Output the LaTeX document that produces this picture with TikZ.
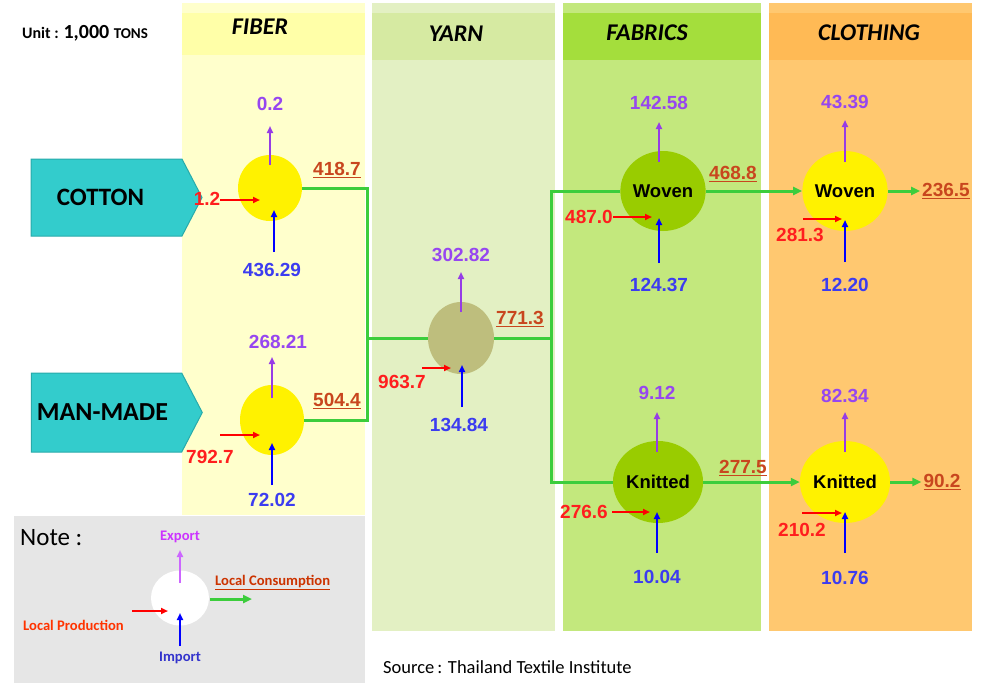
\documentclass[tikz,border=0pt]{standalone}
\usepackage{fontspec}
\setmainfont{Carlito}
\newfontfamily\numfont{Liberation Sans}
\usetikzlibrary{shapes.geometric,shapes.symbols,arrows.meta}

\definecolor{fibbody}{RGB}{255,255,204}
\definecolor{fibband}{RGB}{255,255,168}
\definecolor{yarnbody}{RGB}{227,240,195}
\definecolor{yarnband}{RGB}{214,234,162}
\definecolor{fabbody}{RGB}{195,232,125}
\definecolor{fabband}{RGB}{164,222,60}
\definecolor{clobody}{RGB}{255,200,112}
\definecolor{cloband}{RGB}{255,186,85}
\definecolor{notebg}{RGB}{230,230,230}
\definecolor{tealfill}{RGB}{51,204,204}
\definecolor{tealline}{RGB}{40,170,170}
\definecolor{yarnfill}{RGB}{190,190,125}
\definecolor{fabfill}{RGB}{153,204,0}
\definecolor{expcol}{RGB}{150,70,240}
\definecolor{impcol}{RGB}{60,60,240}
\definecolor{prodcol}{RGB}{255,30,30}
\definecolor{conscol}{RGB}{200,70,30}
\definecolor{expline}{RGB}{150,60,230}
\definecolor{impline}{RGB}{0,0,255}
\definecolor{prodline}{RGB}{255,0,0}
\definecolor{consline}{RGB}{60,205,60}

\begin{document}
\begin{tikzpicture}[x=1pt,y=-1pt,
  num/.style={font=\numfont\bfseries\fontsize{19}{21}\selectfont, inner sep=2pt},
  expnum/.style={num, text=expcol},
  impnum/.style={num, text=impcol},
  prodnum/.style={num, text=prodcol},
  consnum/.style={num, text=conscol},
  stage/.style={ellipse, inner sep=0pt, font=\numfont\bfseries\fontsize{18.5}{20}\selectfont},
  thinarr/.style={line width=2pt, -{Triangle[length=7pt,width=6pt]}},
  exparr/.style={thinarr, draw=expline},
  imparr/.style={thinarr, draw=impline},
  prodarr/.style={thinarr, draw=prodline},
  cons/.style={draw=consline, line width=3pt},
  consarr/.style={cons, -{Triangle[length=9pt,width=8pt]}},
  head/.style={font=\bfseries\itshape\fontsize{24}{26}\selectfont},
  source/.style={signal, signal to=east, signal pointer angle=125, fill=tealfill,
    draw=tealline, line width=1pt, minimum width=171pt, inner sep=0pt,
    font=\bfseries\fontsize{25}{27}\selectfont},
  legend/.style={font=\bfseries\fontsize{14.6}{16}\selectfont, inner sep=1pt}]

  \useasboundingbox (0,0) rectangle (985,691);

  \fill[fibbody] (182,3) rectangle (365,515);
  \fill[fibband] (182,13) rectangle (365,55);
  \fill[yarnbody] (372,3) rectangle (555,631);
  \fill[yarnband] (372,13) rectangle (555,60);
  \fill[fabbody] (563,3) rectangle (761,631);
  \fill[fabband] (563,13) rectangle (761,60);
  \fill[clobody] (769,3) rectangle (972,631);
  \fill[cloband] (769,13) rectangle (972,60);
  \fill[notebg] (14,516) rectangle (365,683);

  \node[anchor=west, font=\bfseries, inner sep=0pt] (unit) at (22,33)
    {\fontsize{16}{18}\selectfont Unit : \fontsize{20}{22}\selectfont 1,000 \fontsize{15}{17}\selectfont TONS};
  \node[head] (hfib) at (260,27) {FIBER};
  \node[head] (hyarn) at (456,34) {YARN};
  \node[head] (hfab) at (647,33) {FABRICS};
  \node[head] (hclo) at (869,33) {CLOTHING};

  \node[source, minimum height=77pt] (cotton) at (106.5,197.5) {COTTON\hspace*{12pt}};
  \node[source, minimum height=79pt, font=\bfseries\fontsize{26}{28}\selectfont] (manmade) at (106.5,412.5) {MAN-MADE\hspace*{8pt}};

  \node[stage, fill=yellow, minimum width=64pt, minimum height=66pt] (fc) at (270,188) {};
  \node[stage, fill=yellow, minimum width=64pt, minimum height=70pt] (fm) at (272,420) {};
  \node[stage, fill=yarnfill, minimum width=66pt, minimum height=72pt] (yn) at (461,338) {};
  \node[stage, fill=fabfill, minimum width=82pt, minimum height=80pt] (fw) at (663,191) {Woven};
  \node[stage, fill=fabfill, minimum width=88pt, minimum height=82pt] (fk) at (658,482) {Knitted};
  \node[stage, fill=yellow, minimum width=84pt, minimum height=80pt] (cw) at (845,191) {Woven};
  \node[stage, fill=yellow, minimum width=84pt, minimum height=82pt] (ck) at (845,482) {Knitted};

  \coordinate (j1) at (367,338);
  \coordinate (j2) at (551,338);
  \draw[cons] (fc.east) -| (j1);
  \draw[cons] (fm.east) -| (j1);
  \draw[cons] (j1) -- (yn.west);
  \draw[cons] (yn.east) -- (j2);
  \draw[cons] (j2) |- (fw.west);
  \draw[cons] (j2) |- (fk.west);
  \draw[consarr] (fw.east) -- (cw.west);
  \draw[consarr] (fk.east) -- (ck.west);

  \node[expnum] (fc-e) at (270,104) {0.2};
  \node[expnum] (fm-e) at (278,342) {268.21};
  \node[expnum] (yn-e) at (461,255) {302.82};
  \node[expnum] (fw-e) at (659,103) {142.58};
  \node[expnum] (fk-e) at (657,393) {9.12};
  \node[expnum] (cw-e) at (845,102) {43.39};
  \node[expnum] (ck-e) at (845,396) {82.34};

  \node[impnum] (fc-i) at (272,270) {436.29};
  \node[impnum] (fm-i) at (272,500) {72.02};
  \node[impnum] (yn-i) at (459,425) {134.84};
  \node[impnum] (fw-i) at (659,285) {124.37};
  \node[impnum] (fk-i) at (657,577) {10.04};
  \node[impnum] (cw-i) at (845,285) {12.20};
  \node[impnum] (ck-i) at (845,578) {10.76};

  \node[prodnum] (fc-p) at (207,199) {1.2};
  \node[prodnum] (fm-p) at (210,457) {792.7};
  \node[prodnum] (yn-p) at (402,382) {963.7};
  \node[prodnum] (fw-p) at (589,217) {487.0};
  \node[prodnum] (fk-p) at (584,512) {276.6};
  \node[prodnum] (cw-p) at (800,235) {281.3};
  \node[prodnum] (ck-p) at (802,530) {210.2};

  \node[consnum] (fc-c) at (337,170) {\underline{418.7}};
  \node[consnum] (fm-c) at (337,401) {\underline{504.4}};
  \node[consnum] (yn-c) at (520,319) {\underline{771.3}};
  \node[consnum] (fw-c) at (733,174) {\underline{468.8}};
  \node[consnum] (fk-c) at (743,468) {\underline{277.5}};
  \node[consnum] (cw-c) at (946,191) {\underline{236.5}};
  \node[consnum] (ck-c) at (942,482) {\underline{90.2}};
  \draw[consarr] (cw.east) -- (cw-c.west);
  \draw[consarr] (ck.east) -- (ck-c.west);

  \draw[exparr] ([yshift=23pt]fc.center) -- ([yshift=62pt]fc.center);
  \draw[exparr] ([yshift=22pt]fm.center) -- ([yshift=63pt]fm.center);
  \draw[exparr] ([yshift=26pt]yn.center) -- ([yshift=66pt]yn.center);
  \draw[exparr] ([xshift=-4pt,yshift=29pt]fw.center) -- ([xshift=-4pt,yshift=69pt]fw.center);
  \draw[exparr] ([xshift=-1pt,yshift=30pt]fk.center) -- ([xshift=-1pt,yshift=70pt]fk.center);
  \draw[exparr] ([yshift=29pt]cw.center) -- ([yshift=71pt]cw.center);
  \draw[exparr] ([yshift=30pt]ck.center) -- ([yshift=70pt]ck.center);

  \draw[imparr] ([xshift=4pt,yshift=-64pt]fc.center) -- ([xshift=4pt,yshift=-22pt]fc.center);
  \draw[imparr] ([yshift=-65pt]fm.center) -- ([yshift=-23pt]fm.center);
  \draw[imparr] ([xshift=1pt,yshift=-69pt]yn.center) -- ([xshift=1pt,yshift=-27pt]yn.center);
  \draw[imparr] ([xshift=-4pt,yshift=-72pt]fw.center) -- ([xshift=-4pt,yshift=-27pt]fw.center);
  \draw[imparr] ([xshift=-1pt,yshift=-71pt]fk.center) -- ([xshift=-1pt,yshift=-30pt]fk.center);
  \draw[imparr] ([yshift=-71pt]cw.center) -- ([yshift=-29pt]cw.center);
  \draw[imparr] ([yshift=-71pt]ck.center) -- ([yshift=-30pt]ck.center);

  \draw[prodarr] ([xshift=-50pt,yshift=-12pt]fc.center) -- ([xshift=-10pt,yshift=-12pt]fc.center);
  \draw[prodarr] ([xshift=-52pt,yshift=-15pt]fm.center) -- ([xshift=-12pt,yshift=-15pt]fm.center);
  \draw[prodarr] ([xshift=-39pt,yshift=-30pt]yn.center) -- ([xshift=-10pt,yshift=-30pt]yn.center);
  \draw[prodarr] ([xshift=-50pt,yshift=-26pt]fw.center) -- ([xshift=-11pt,yshift=-26pt]fw.center);
  \draw[prodarr] ([xshift=-46pt,yshift=-30pt]fk.center) -- ([xshift=-8pt,yshift=-30pt]fk.center);
  \draw[prodarr] ([xshift=-42pt,yshift=-28pt]cw.center) -- ([xshift=-3pt,yshift=-28pt]cw.center);
  \draw[prodarr] ([xshift=-43pt,yshift=-31pt]ck.center) -- ([xshift=-3pt,yshift=-31pt]ck.center);

  \node[anchor=west, font=\fontsize{25}{27}\selectfont, inner sep=0pt] (note) at (20,538) {Note :};
  \node[ellipse, fill=white, minimum width=58pt, minimum height=55pt, inner sep=0pt] (key) at (180,598) {};
  \node[legend, text={rgb,255:red,204;green,51;blue,255}] (key-e) at (180,537) {Export};
  \node[legend, text={rgb,255:red,51;green,51;blue,204}] (key-i) at (180,658) {Import};
  \node[legend, text={rgb,255:red,255;green,51;blue,0}, anchor=west] (key-p) at (22,625) {Local Production};
  \node[legend, text={rgb,255:red,204;green,51;blue,0}, anchor=west] (key-c) at (214,583) {\underline{Local Consumption}};
  \draw[thinarr, draw={rgb,255:red,204;green,102;blue,255}] ([yshift=15pt]key.center) -- ([yshift=48pt]key.center);
  \draw[imparr] ([yshift=-48pt]key.center) -- ([yshift=-15pt]key.center);
  \draw[prodarr] ([xshift=-48pt,yshift=-13pt]key.center) -- ([xshift=-12pt,yshift=-13pt]key.center);
  \draw[consarr] ([xshift=30pt,yshift=-1pt]key.center) -- ([xshift=72pt,yshift=-1pt]key.center);

  \node[anchor=west, font=\fontsize{18.5}{20}\selectfont, inner sep=0pt] (src) at (383,667) {Source\,: Thailand Textile Institute};
\end{tikzpicture}
\end{document}
